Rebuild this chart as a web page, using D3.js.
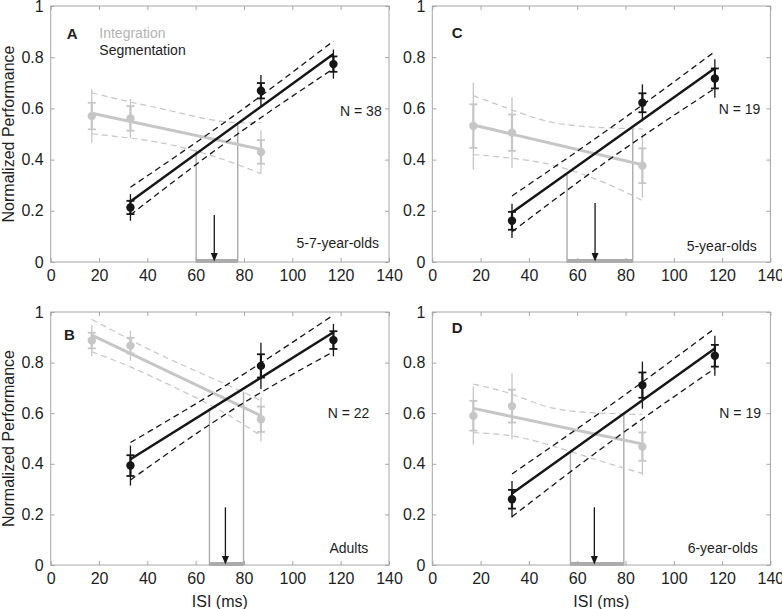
<!DOCTYPE html>
<html><head><meta charset="utf-8">
<script src="https://cdn.jsdelivr.net/npm/d3@7"></script>
<style>
html,body{margin:0;padding:0;background:#fff;}
svg{display:block;font-family:"Liberation Sans",Arial,Helvetica,sans-serif;}
</style></head>
<body><svg id="chart" width="782" height="609"></svg>
<script>
// ---------------- data ----------------
const panelIds = ["A", "C", "B", "D"];
const groupLabels = ["5-7-year-olds", "5-year-olds", "Adults", "6-year-olds"];
const nLabels = ["N = 38", "N = 19", "N = 22", "N = 19"];
const legendLabels = ["Integration", "Segmentation"];
const xTickValues = [0, 20, 40, 60, 80, 100, 120, 140];
const yTickValues = [0, 0.2, 0.4, 0.6, 0.8, 1];
const yTickLabels = ["0", "0.2", "0.4", "0.6", "0.8", "1"];

const xInt = [17, 33, 87];
const xSeg = [33, 87, 117];
const intMean = [[0.570, 0.561, 0.430], [0.531, 0.505, 0.376], [0.887, 0.867, 0.576], [0.590, 0.628, 0.468]];
const intSem  = [[0.052, 0.048, 0.046], [0.085, 0.071, 0.068], [0.031, 0.031, 0.050], [0.059, 0.065, 0.056]];
const intCi   = [[0.105, 0.076, 0.084], [0.170, 0.138, 0.125], [0.061, 0.059, 0.087], [0.115, 0.130, 0.112]];
const segMean = [[0.213, 0.669, 0.773], [0.161, 0.622, 0.717], [0.393, 0.787, 0.889], [0.260, 0.711, 0.827]];
const segSem  = [[0.026, 0.030, 0.030], [0.035, 0.037, 0.039], [0.041, 0.046, 0.035], [0.037, 0.050, 0.043]];
const segCi   = [[0.052, 0.061, 0.057], [0.067, 0.072, 0.075], [0.079, 0.091, 0.064], [0.072, 0.093, 0.079]];

const intFitX = [17, 87];
const intFit = [[0.581, 0.440], [0.535, 0.380], [0.909, 0.590], [0.619, 0.478]];
const segFitX = [33, 117];
const segFit = [[0.236, 0.8125], [0.193, 0.757], [0.418, 0.920], [0.283, 0.856]];

const intBandX = [17, 33, 50, 70, 87];
const intBandUp = [[0.661, 0.625, 0.590, 0.550, 0.545], [0.650, 0.594, 0.545, 0.525, 0.520], [0.971, 0.890, 0.810, 0.725, 0.650], [0.715, 0.675, 0.620, 0.600, 0.595]];
const intBandLo = [[0.501, 0.484, 0.457, 0.405, 0.345], [0.420, 0.405, 0.378, 0.315, 0.240], [0.843, 0.783, 0.708, 0.612, 0.510], [0.523, 0.510, 0.470, 0.410, 0.362]];
const segBandX = [33, 75, 117];
const segBandUp = [[0.292, 0.566, 0.863], [0.258, 0.532, 0.822], [0.484, 0.725, 0.988], [0.360, 0.640, 0.935]];
const segBandLo = [[0.184, 0.484, 0.755], [0.118, 0.412, 0.678], [0.336, 0.612, 0.843], [0.191, 0.495, 0.777]];

const crossLo = [60.2, 55.8, 65.7, 57.2];
const crossHi = [77.4, 83.0, 79.8, 79.3];
const crossLoTop = [0.4375, 0.340, 0.619, 0.448];
const crossHiTop = [0.535, 0.520, 0.685, 0.600];
const arrowX = [67.7, 67.4, 72.3, 67.1];
const arrowTop = [0.184, 0.230, 0.228, 0.228];

// ---------------- layout ----------------
const layout = [
  {l: 50.7, r: 389, t: 6, b: 262, letterY: 33, nY: 111, nR: 381.7, gY: 242.7, gR: 379, letterX: 66.7, showY: true, showX: false},
  {l: 432.3, r: 770.4, t: 6, b: 262, letterY: 32, nY: 109.3, nR: 760.3, gY: 245.7, gR: 756.7, letterX: 451.7, showY: false, showX: false},
  {l: 50.7, r: 389, t: 312, b: 565, letterY: 334, nY: 413.3, nR: 369.3, gY: 548.3, gR: 368.3, letterX: 64, showY: true, showX: true},
  {l: 432.3, r: 770.4, t: 312, b: 565, letterY: 327, nY: 412.7, nR: 761, gY: 548.3, gR: 757.7, letterX: 451.7, showY: false, showX: true}
];

const GRAY = "#c6c6c6", BLACK = "#161616", FRAME = "#a6a6a6", TXT = "#1e1e1e", BOX = "#ababab";
const svg = d3.select("#chart");

layout.forEach((L, i) => {
  const x = d3.scaleLinear().domain([0, 140]).range([L.l, L.r]);
  const y = d3.scaleLinear().domain([0, 1]).range([L.b, L.t]);
  const g = svg.append("g");

  // frame
  g.append("rect").attr("x", L.l).attr("y", L.t).attr("width", L.r - L.l).attr("height", L.b - L.t)
    .attr("fill", "none").attr("stroke", FRAME).attr("stroke-width", 1);

  // axes
  const ax = g.append("g").attr("transform", `translate(0,${L.b})`)
    .call(d3.axisBottom(x).tickValues(xTickValues).tickSizeInner(-4).tickSizeOuter(0).tickPadding(8));
  const axT = g.append("g").attr("transform", `translate(0,${L.t})`)
    .call(d3.axisTop(x).tickValues(xTickValues).tickSizeInner(-4).tickSizeOuter(0).tickFormat(""));
  const ay = g.append("g").attr("transform", `translate(${L.l},0)`)
    .call(d3.axisLeft(y).tickValues(yTickValues).tickSizeInner(-4).tickSizeOuter(0).tickPadding(7)
      .tickFormat((d, k) => yTickLabels[k]));
  const ayR = g.append("g").attr("transform", `translate(${L.r},0)`)
    .call(d3.axisRight(y).tickValues(yTickValues).tickSizeInner(-4).tickSizeOuter(0).tickFormat(""));
  [ax, axT, ay, ayR].forEach(a => {
    a.select(".domain").remove();
    a.selectAll(".tick line").attr("stroke", FRAME);
    a.selectAll(".tick text").attr("fill", TXT).style("font-size", "16px")
      .style("font-family", '"Liberation Sans",Arial,Helvetica,sans-serif');
  });

  // crossover box
  g.append("line").attr("x1", x(crossLo[i])).attr("x2", x(crossLo[i])).attr("y1", y(0)).attr("y2", y(crossLoTop[i]))
    .attr("stroke", BOX).attr("stroke-width", 1.4);
  g.append("line").attr("x1", x(crossHi[i])).attr("x2", x(crossHi[i])).attr("y1", y(0)).attr("y2", y(crossHiTop[i]))
    .attr("stroke", BOX).attr("stroke-width", 1.4);
  g.append("line").attr("x1", x(crossLo[i])).attr("x2", x(crossHi[i])).attr("y1", y(0) - 1).attr("y2", y(0) - 1)
    .attr("stroke", BOX).attr("stroke-width", 4);

  const line = d3.line().x(d => x(d[0])).y(d => y(d[1]));
  const curve = d3.line().x(d => x(d[0])).y(d => y(d[1])).curve(d3.curveNatural);

  function drawSeries(xs, mean, sem, ci, fitX, fit, bx, bUp, bLo, color, fitW, dashW, r) {
    [bUp, bLo].forEach(b => {
      g.append("path").datum(bx.map((v, k) => [v, b[k]])).attr("d", curve)
        .attr("fill", "none").attr("stroke", color).attr("stroke-width", dashW).attr("stroke-dasharray", "6,4");
    });
    g.append("path").datum(fitX.map((v, k) => [v, fit[k]])).attr("d", line)
      .attr("fill", "none").attr("stroke", color).attr("stroke-width", fitW);
    xs.forEach((xv, k) => {
      const cx = x(xv);
      g.append("line").attr("x1", cx).attr("x2", cx).attr("y1", y(mean[k] - ci[k])).attr("y2", y(mean[k] + ci[k]))
        .attr("stroke", color).attr("stroke-width", 1.3);
      g.append("line").attr("x1", cx).attr("x2", cx).attr("y1", y(mean[k] - sem[k])).attr("y2", y(mean[k] + sem[k]))
        .attr("stroke", color).attr("stroke-width", 2.2);
      [mean[k] - sem[k], mean[k] + sem[k]].forEach(v => {
        g.append("line").attr("x1", cx - 4).attr("x2", cx + 4).attr("y1", y(v)).attr("y2", y(v))
          .attr("stroke", color).attr("stroke-width", 1.8);
      });
      g.append("circle").attr("cx", cx).attr("cy", y(mean[k])).attr("r", r).attr("fill", color);
    });
  }
  drawSeries(xInt, intMean[i], intSem[i], intCi[i], intFitX, intFit[i], intBandX, intBandUp[i], intBandLo[i], GRAY, 3, 1.2, 4.2);
  drawSeries(xSeg, segMean[i], segSem[i], segCi[i], segFitX, segFit[i], segBandX, segBandUp[i], segBandLo[i], BLACK, 2.5, 1.3, 4.2);

  // arrow
  const ax0 = x(arrowX[i]);
  g.append("line").attr("x1", ax0).attr("x2", ax0).attr("y1", y(arrowTop[i])).attr("y2", y(0) - 7)
    .attr("stroke", BLACK).attr("stroke-width", 1.3);
  g.append("path").attr("d", `M${ax0 - 3.5},${y(0) - 9} L${ax0 + 3.5},${y(0) - 9} L${ax0},${y(0) - 0.5} Z`).attr("fill", BLACK);

  // texts
  g.append("text").attr("x", L.letterX).attr("y", L.letterY + 5.5).text(panelIds[i])
    .attr("fill", TXT).style("font-size", "15px").style("font-weight", "bold");
  g.append("text").attr("x", L.nR).attr("y", L.nY + 5).attr("text-anchor", "end").text(nLabels[i])
    .attr("fill", TXT).style("font-size", "14px");
  g.append("text").attr("x", L.gR).attr("y", L.gY + 5).attr("text-anchor", "end").text(groupLabels[i])
    .attr("fill", TXT).style("font-size", "14px");
  if (i === 0) {
    g.append("text").attr("x", 99.3).attr("y", 38.3).text(legendLabels[0]).attr("fill", "#b4b4b4").style("font-size", "14px");
    g.append("text").attr("x", 99.3).attr("y", 55).text(legendLabels[1]).attr("fill", TXT).style("font-size", "14px");
  }
  if (L.showY) {
    g.append("text").attr("transform", `translate(13.5,${(L.t + L.b) / 2}) rotate(-90)`).attr("text-anchor", "middle")
      .text("Normalized Performance").attr("fill", TXT).style("font-size", "16px");
  }
  if (L.showX) {
    g.append("text").attr("x", (L.l + L.r) / 2).attr("y", 606.5).attr("text-anchor", "middle")
      .text("ISI (ms)").attr("fill", TXT).style("font-size", "16px");
  }
});
</script></body></html>
